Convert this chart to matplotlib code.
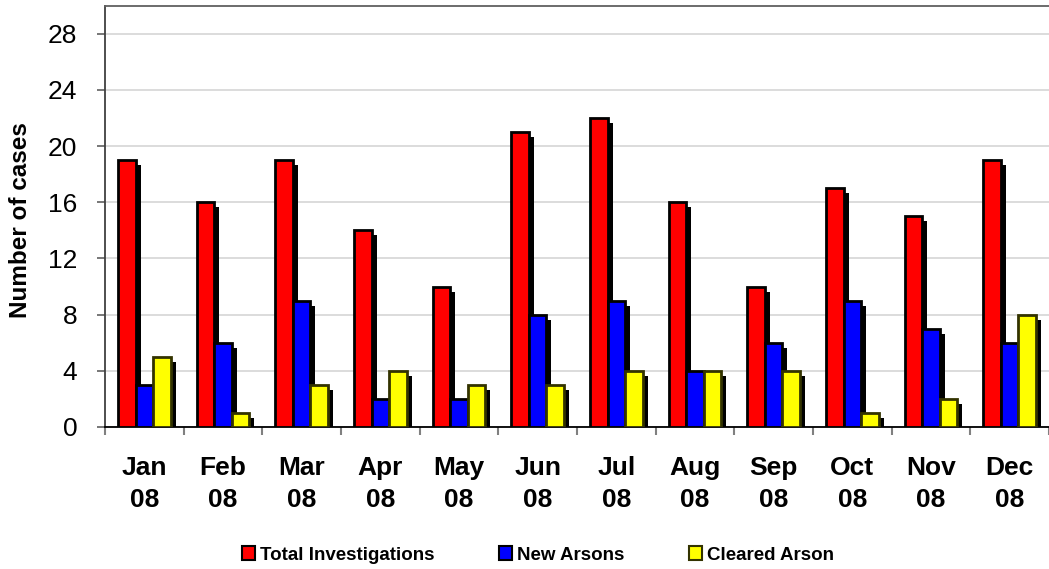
import matplotlib
matplotlib.use('Agg')
import matplotlib.pyplot as plt
import matplotlib.transforms as mtransforms
from matplotlib.patches import Patch
import numpy as np

plt.rcParams['font.family'] = ['Liberation Sans', 'DejaVu Sans']

months = ['Jan\n08', 'Feb\n08', 'Mar\n08', 'Apr\n08', 'May\n08', 'Jun\n08',
          'Jul\n08', 'Aug\n08', 'Sep\n08', 'Oct\n08', 'Nov\n08', 'Dec\n08']
total_investigations = [19, 16, 19, 14, 10, 21, 22, 16, 10, 17, 15, 19]
new_arsons = [3, 6, 9, 2, 2, 8, 9, 4, 6, 9, 7, 6]
cleared_arson = [5, 1, 3, 4, 3, 3, 4, 4, 4, 1, 2, 8]

series = [
    ('Total Investigations', total_investigations, '#ff0000', 'black'),
    ('New Arsons', new_arsons, '#0000ff', 'black'),
    ('Cleared Arson', cleared_arson, '#ffff00', '#333300'),
]

fig = plt.figure(figsize=(10.49, 5.69), dpi=100)
ax = fig.add_axes([105 / 1049, 1 - 427 / 569, 944 / 1049, 421.5 / 569])

x = np.arange(len(months))
w = 0.222
shadow = mtransforms.offset_copy(ax.transData, fig=fig, x=5, y=-5, units='dots')

for i, (name, vals, color, edge) in enumerate(series):
    pos = x + (i - 1) * w
    ax.bar(pos, vals, w, color='black', linewidth=0, transform=shadow, zorder=2)
    ax.bar(pos, vals, w, color=color, edgecolor=edge, linewidth=2, zorder=3)

ax.set_xlim(-0.5, len(months) - 0.5)
ax.set_ylim(0, 30)
ax.set_yticks(range(0, 29, 4))
ax.tick_params(axis='y', labelsize=19, direction='out', length=6, color='#606060',
               width=1.2, pad=14)
ax.yaxis.grid(True, color='#d9d9d9', linewidth=1.3)
ax.set_axisbelow(True)

ax.set_xticks(x)
ax.set_xticklabels(months, fontsize=19, fontweight='bold', linespacing=1.4)
ax.set_xticks(np.arange(-0.5, len(months), 1), minor=True)
ax.tick_params(axis='x', which='major', length=0, pad=21)
ax.tick_params(axis='x', which='minor', direction='out', length=6, color='#808080', width=1.5)

ax.set_ylabel('Number of cases', fontsize=17.5, fontweight='bold')
ax.yaxis.set_label_coords(-73 / 944, 0.49)

ax.spines['right'].set_visible(False)
ax.spines['top'].set_color('#606060')
ax.spines['left'].set_color('#404040')
ax.spines['bottom'].set_color('black')
for s in ax.spines.values():
    s.set_linewidth(1.3)

handles = [Patch(facecolor=c, edgecolor=e, linewidth=1.5) for _, _, c, e in series]
labels = [n for n, _, _, _ in series]
fig.legend(handles, labels, loc='center', bbox_to_anchor=(538 / 1049, 1 - 555 / 569), ncol=3,
           frameon=False, prop={'weight': 'bold', 'size': 13.5}, handlelength=0.7,
           handleheight=0.7, handletextpad=0.3, columnspacing=3.4)

fig.savefig('out.png', dpi=100)
